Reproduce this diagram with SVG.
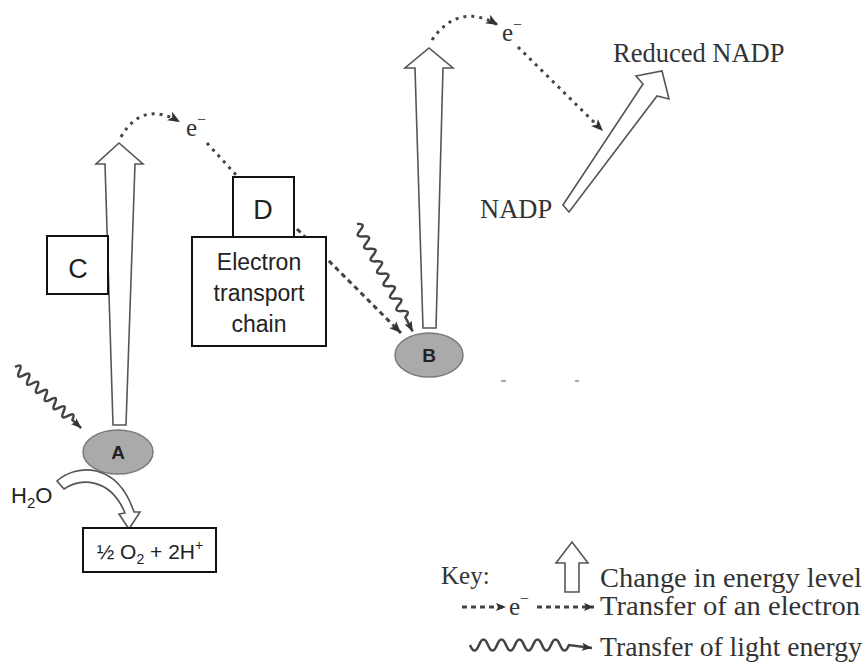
<svg xmlns="http://www.w3.org/2000/svg" width="866" height="667" viewBox="0 0 866 667">
<style>
.box{fill:#fff;stroke:#111;stroke-width:2}
.blk{fill:#fff;stroke:#555;stroke-width:1.6;stroke-linejoin:miter}
.ps{fill:#aaa;stroke:#7a7a7a;stroke-width:1.5}
.sans{font-family:"Liberation Sans","Open Sans",Arial,sans-serif;fill:#222}
.serif{font-family:"Liberation Serif","Times New Roman",serif;fill:#333}
.dot{fill:none;stroke:#444;stroke-width:3;stroke-dasharray:3 5}
.dash{fill:none;stroke:#444;stroke-width:3;stroke-dasharray:5 4}
.wave{fill:none;stroke:#444;stroke-width:2.5}
</style>
<defs>
<marker id="ah" markerUnits="userSpaceOnUse" markerWidth="14" markerHeight="12" refX="12" refY="5" orient="auto">
<path d="M0,0 L12,5 L0,10 L3,5 Z" fill="#333"/>
</marker>
<marker id="ahs" markerUnits="userSpaceOnUse" markerWidth="12" markerHeight="10" refX="10" refY="4" orient="auto">
<path d="M0,0 L10,4 L0,8 L2,4 Z" fill="#333"/>
</marker>
</defs>

<g id="connectors">
<path class="dot" d="M121,137 Q142,100 180,122" marker-end="url(#ah)"/>
<path class="dot" d="M207,143 L237,176"/>
<path class="dash" d="M297,229 L401,333" marker-end="url(#ah)"/>
<path class="dot" d="M432,40 Q458,2 498,25" marker-end="url(#ah)"/>
<path class="dot" d="M518,47 L603,131" marker-end="url(#ah)"/>
<path class="wave" transform="translate(15,367) rotate(42.7)" d="M0,0 q3,-9 6,0 t6,0 t6,0 t6,0 t6,0 t6,0 t6,0 t6,0 t6,0 t6,0 t6,0 t6,0 t6,0 L90,0" marker-end="url(#ahs)"/>
<path class="wave" transform="translate(357,224) rotate(62.6)" d="M0,0 q3.5,-9 7,0 t7,0 t7,0 t7,0 t7,0 t7,0 t7,0 t7,0 t7,0 t7,0 t7,0 t7,0 t7,0 t7,0 t7,0 L121,0" marker-end="url(#ahs)"/>
</g>

<g id="arrowA">
<polygon class="blk" points="113,425 126,425 135,164 143,164 119,143 96,164 105,164"/>
</g>
<g id="arrowB">
<polygon class="blk" points="423,328 436,328 443,68 453,68 429,48 405,68 415,68"/>
</g>
<g id="arrowNADP">
<polygon class="blk" points="563,205 569,212 657,96 669,99 662,71 636,76 643,84"/>
</g>

<g id="nodeC">
<rect class="box" x="47" y="236" width="61" height="58"/>
<text class="sans" x="78" y="278" font-size="27" text-anchor="middle">C</text>
</g>
<g id="nodeETC">
<rect class="box" x="192" y="237" width="134" height="109"/>
<text class="sans" x="259" y="270" font-size="23" text-anchor="middle">Electron</text>
<text class="sans" x="259" y="301" font-size="23" text-anchor="middle">transport</text>
<text class="sans" x="259" y="332" font-size="23" text-anchor="middle">chain</text>
</g>
<g id="nodeD">
<rect class="box" x="233" y="177" width="61" height="60"/>
<text class="sans" x="263" y="219" font-size="27" text-anchor="middle">D</text>
</g>
<g id="nodeA">
<ellipse class="ps" cx="118" cy="452" rx="35" ry="22"/>
<text class="sans" x="118" y="459" font-size="19" font-weight="bold" text-anchor="middle">A</text>
</g>
<g id="nodeB">
<ellipse class="ps" cx="429" cy="355" rx="34" ry="22"/>
<text class="sans" x="429" y="362" font-size="19" font-weight="bold" text-anchor="middle">B</text>
</g>

<g id="water">
<text class="sans" x="11" y="503" font-size="22">H<tspan font-size="15" dy="5">2</tspan><tspan dy="-5">O</tspan></text>
<path class="blk" d="M57,481 C76,464 117,461 134,512 L140,512 L129,529 L119,514 L125,513 C110,477 80,478 64,489 Z"/>
</g>
<g id="products">
<rect class="box" x="83" y="528" width="133" height="44"/>
<text class="sans" x="150" y="559" font-size="21" text-anchor="middle">½ O<tspan font-size="14" dy="5">2</tspan><tspan dy="-5"> + 2H</tspan><tspan font-size="14" dy="-9">+</tspan></text>
</g>

<g id="labels">
<text class="serif" x="186" y="136" font-size="25">e<tspan font-size="16" dy="-11">−</tspan></text>
<text class="serif" x="502" y="41" font-size="25">e<tspan font-size="16" dy="-11">−</tspan></text>
<text class="serif" x="613" y="62" font-size="26.5">Reduced NADP</text>
<text class="serif" x="480" y="218" font-size="26.5">NADP</text>
</g>

<g id="stray" stroke="#aaa" stroke-width="2">
<line x1="501" y1="381" x2="506" y2="381"/>
<line x1="575" y1="381" x2="579" y2="381"/>
</g>

<g id="key">
<text class="serif" x="441" y="584" font-size="25">Key:</text>
<polygon class="blk" points="565,592 579,592 579,563 588,563 572,542 556,563 565,563"/>
<text class="serif" x="600" y="587" font-size="28" textLength="262" lengthAdjust="spacingAndGlyphs">Change in energy level</text>
<path class="dash" d="M462,607 L506,607" marker-end="url(#ahs)"/>
<text class="serif" x="509" y="615" font-size="25">e<tspan font-size="16" dy="-11">−</tspan></text>
<path class="dash" d="M537,607 L594,607" marker-end="url(#ahs)"/>
<text class="serif" x="600" y="615" font-size="28" textLength="260" lengthAdjust="spacingAndGlyphs">Transfer of an electron</text>
<path class="wave" d="M470,645 q4.5,11 9,0 t9,0 t9,0 t9,0 t9,0 t9,0 t9,0 t9,0 t9,0 t9,0 t9,0 L592,648" marker-end="url(#ahs)"/>
<text class="serif" x="600" y="656" font-size="28" textLength="262" lengthAdjust="spacingAndGlyphs">Transfer of light energy</text>
</g>
</svg>
